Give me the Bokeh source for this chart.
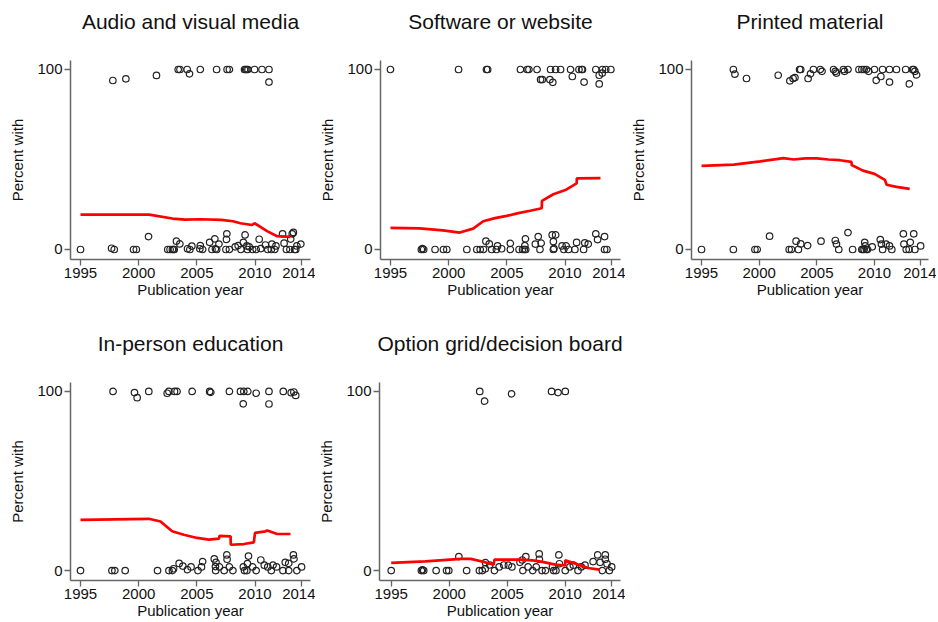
from bokeh.plotting import figure
from bokeh.layouts import column, row
from bokeh.models import Range1d, FixedTicker
from bokeh.embed import file_html
from bokeh.resources import INLINE

# ---------------- data ----------------
titles = ["Audio and visual media", "Software or website", "Printed material",
          "In-person education", "Option grid/decision board"]
x_ticks = [1995, 2000, 2005, 2010, 2014]
y_ticks = [0, 100]
x_label = "Publication year"
y_label = "Percent with"

av_year = [1997.78, 1998.9, 2001.53, 2003.4, 2003.55, 2004.17, 2004.37, 2005.3, 2006.7, 2007.6,
           2007.8, 2009.1, 2009.2, 2009.3, 2009.4, 2009.96, 2010.6, 2011.2, 2011.2,
           1995.0, 1997.67, 1997.9, 1999.56, 1999.8, 2000.85, 2002.5, 2002.7, 2002.9, 2003.05,
           2003.25, 2003.54, 2004.2, 2004.57, 2005.26, 2005.3, 2006.1, 2006.3, 2006.55, 2006.6,
           2006.7, 2006.9, 2007.5, 2007.55, 2007.58, 2007.8, 2008.55, 2008.8, 2009.0, 2009.15,
           2009.3, 2009.35, 2009.8, 2010.36, 2010.5, 2010.9, 2011.4, 2011.45, 2011.7, 2011.8,
           2012.37, 2012.7, 2013.0, 2013.07, 2013.2, 2013.4, 2013.94, 2003.0, 2004.4, 2005.5,
           2008.3, 2009.5, 2010.1, 2011.1, 2012.5, 2013.3, 2013.5, 2013.6]
av_pct = [93.9, 94.8, 96.7, 100, 100, 100, 97.6, 100, 100, 100,
          100, 100, 100, 100, 100, 100, 100, 100, 93.0,
          0, 0.7, 0, 0, 0, 7.2, 0, 0, 0, 0,
          4.6, 3.1, 0.4, 1.9, 0.4, 2.2, 4.0, 0, 5.9, 0.4,
          0, 3.0, 0, 5.6, 8.7, 0, 2.2, 0, 4.0, 8.1,
          2.0, 0, 0, 5.7, 0.5, 2.5, 0, 3.0, 0, 2.0,
          8.7, 0, 0, 5.8, 8.7, 0, 3.0, 0, 0, 0,
          1.5, 1.5, 0, 0, 3.5, 9.5, 0, 2.0]

sw_year = [1995.0, 2000.85, 2003.25, 2003.35, 2006.17, 2006.75, 2006.9, 2007.6, 2008.76, 2009.19,
           2009.62, 2010.48, 2011.2, 2011.43, 2011.5, 2012.65, 2013.22, 2013.5, 2013.94, 2007.9,
           2008.05, 2008.7, 2008.95, 2010.63, 2011.64, 2012.94, 2012.94, 2013.2,
           1997.65, 1997.75, 1997.85, 1998.83, 1999.55, 1999.84, 2001.56, 2002.42, 2002.71, 2003.0,
           2003.2, 2003.49, 2003.7, 2004.1, 2004.2, 2004.55, 2005.3, 2005.3, 2006.05, 2006.35,
           2006.5, 2006.55, 2006.6, 2006.62, 2007.45, 2007.7, 2007.85, 2007.95, 2008.9, 2009.0,
           2009.0, 2009.05, 2009.2, 2009.75, 2009.9, 2010.1, 2010.3, 2011.0, 2010.85, 2011.7,
           2011.6, 2012.0, 2012.65, 2012.8, 2013.4, 2013.4, 2013.6]
sw_pct = [100, 100, 100, 100, 100, 100, 100, 100, 100, 100,
          100, 100, 100, 100, 100, 100, 100, 100, 100, 94.4,
          94.4, 94.4, 92.9, 96.1, 93.0, 96.8, 92.0, 98.0,
          0, 0.5, 0, 0, 0, 0, 0, 0, 0, 0,
          4.6, 3.1, 0, 0, 2.0, 0.4, 0, 3.4, 0, 0,
          0, 2.2, 5.9, 0, 3.0, 7.2, 0, 3.5, 8.1, 4.4,
          0, 0.5, 8.1, 2.0, 0, 2.0, 0, 3.9, 0, 3.7,
          0, 3.0, 8.7, 5.5, 7.2, 0, 0]

pm_year = [1997.76, 1997.9, 1998.9, 2001.65, 2002.66, 2002.94, 2003.1, 2003.5, 2003.6, 2004.24,
           2004.45, 2004.7, 2005.3, 2005.45, 2006.45, 2006.6, 2006.7, 2007.3, 2007.4, 2007.7,
           2008.65, 2008.9, 2009.1, 2009.3, 2009.5, 2010.0, 2010.15, 2010.55, 2010.7, 2011.3,
           2011.3, 2011.9, 2012.7, 2013.02, 2013.3, 2013.4, 2013.5, 2013.65,
           1995.0, 1997.76, 1999.63, 1999.83, 2000.9, 2002.6, 2002.8, 2003.2, 2003.4, 2003.6,
           2004.2, 2005.36, 2006.6, 2006.7, 2006.9, 2007.7, 2008.1, 2008.9, 2009.0, 2009.1,
           2009.15, 2009.2, 2009.3, 2009.4, 2009.8, 2010.5, 2010.6, 2010.7, 2011.0, 2011.3,
           2011.5, 2012.5, 2012.55, 2012.75, 2013.1, 2013.0, 2013.4, 2013.5, 2014.0]
pm_pct = [100, 97.4, 95.0, 96.8, 93.7, 95.0, 95.5, 100, 100, 95.0,
          97.6, 100, 100, 99.0, 100, 99.0, 98.0, 100, 99.0, 100,
          100, 100, 100, 100, 99.0, 100, 94.0, 96.1, 100, 93.0,
          100, 100, 100, 92.0, 100, 100, 99.0, 97.0,
          0, 0, 0, 0, 7.4, 0, 0, 4.6, 0, 3.1,
          2.2, 4.6, 5.0, 3.0, 0, 9.4, 0, 0, 0, 0,
          4.0, 2.0, 0, 0, 1.5, 5.5, 3.0, 0, 3.0, 2.0,
          0, 8.7, 3.0, 0, 4.0, 0, 8.7, 0, 2.0]

ip_year = [1997.8, 1999.64, 1999.87, 2000.87, 2002.45, 2002.6, 2003.08, 2003.3, 2004.6, 2006.1,
           2006.2, 2007.8, 2008.75, 2009.04, 2009.38, 2008.99, 2010.1, 2011.2, 2011.2, 2012.43,
           2013.11, 2013.34, 2013.5,
           1995.0, 1997.7, 1997.95, 1998.84, 2001.62, 2002.6, 2002.9, 2003.0, 2003.48, 2003.8,
           2004.2, 2004.5, 2005.1, 2005.4, 2005.5, 2006.5, 2006.65, 2006.6, 2006.62, 2006.95,
           2007.35, 2007.58, 2007.6, 2007.8, 2008.1, 2009.0, 2009.1, 2009.3, 2009.44, 2009.35,
           2009.8, 2010.1, 2010.5, 2010.8, 2011.1, 2011.4, 2011.55, 2011.85, 2012.4, 2012.6,
           2012.9, 2013.3, 2013.35, 2012.9, 2013.6, 2014.0]
ip_pct = [100, 99.4, 96.5, 100, 99.0, 100, 100, 100, 100, 100,
          99.5, 100, 100, 100, 100, 93.1, 99.0, 100, 93.0, 100,
          99.3, 99.7, 97.8,
          0, 0, 0, 0, 0, 0, 0, 1.0, 4.0, 2.5,
          0.5, 2.0, 0, 2.0, 5.0, 6.5, 4.6, 2.2, 0, 2.0,
          0, 8.7, 6.3, 2.0, 0, 2.0, 0, 0, 8.1, 3.9,
          2.0, 0, 5.9, 3.0, 2.0, 0, 3.0, 2.0, 0, 4.6,
          4.0, 8.7, 6.5, 0, 0, 2.0]

og_year = [2002.63, 2003.05, 2005.37, 2008.82, 2009.38, 2010.0,
           1995.0, 1997.6, 1997.7, 1997.8, 1998.87, 1999.77, 1999.96, 2000.83, 2001.5, 2002.6,
           2002.85, 2003.1, 2003.13, 2003.5, 2003.9, 2004.3, 2004.7, 2005.1, 2005.4, 2006.1,
           2006.3, 2006.35, 2006.6, 2006.8, 2007.2, 2007.75, 2007.77, 2007.5, 2008.0, 2008.3,
           2008.9, 2009.0, 2009.2, 2009.45, 2009.5, 2010.0, 2010.4, 2010.7, 2011.1, 2011.4,
           2011.7, 2012.4, 2012.8, 2013.0, 2013.45, 2013.45, 2013.6, 2013.2, 2013.8, 2014.0]
og_pct = [100, 94.6, 98.7, 100, 99.4, 100,
          0, 0, 0.4, 0, 0, 0, 0, 7.8, 0, 0,
          0, 1.0, 4.4, 3.1, 0, 2.0, 3.1, 3.0, 2.0, 4.6,
          5.9, 0, 7.8, 2.0, 0, 9.3, 6.3, 2.0, 0, 0,
          2.0, 0, 0, 8.7, 3.8, 0, 2.0, 3.0, 0, 2.0,
          3.0, 5.0, 8.7, 4.6, 8.7, 6.3, 3.8, 0, 0, 2.0]

# lowess smooth lines
av_fit_year = [1995.0, 2000.9, 2002.9, 2004.0, 2005.3, 2007.1, 2008.1, 2008.75, 2009.75, 2009.96,
               2011.04, 2011.9, 2013.05]
av_fit = [19.4, 19.4, 17.2, 16.6, 16.8, 16.5, 15.7, 14.6, 13.6, 14.6, 10.2, 7.4, 7.0]
sw_fit_year = [1995.0, 1997.5, 1999.5, 2000.96, 2002.1, 2002.97, 2003.98, 2004.99, 2005.99, 2007.0,
               2008.0, 2008.02, 2009.0, 2010.03, 2011.0, 2011.02, 2013.05]
sw_fit = [12.0, 11.7, 10.6, 9.4, 11.6, 15.7, 17.4, 18.7, 20.2, 21.5, 22.9, 27.0, 30.7, 33.0, 36.7,
          39.5, 39.6]
pm_fit_year = [1995.0, 1997.8, 2000.1, 2002.1, 2003.0, 2004.0, 2005.0, 2006.0, 2007.0, 2008.0,
               2008.02, 2009.0, 2010.0, 2010.9, 2011.05, 2011.9, 2013.05]
pm_fit = [46.5, 47.2, 49.0, 50.8, 50.0, 50.6, 50.6, 50.0, 49.6, 48.7, 46.9, 43.8, 42.0, 38.7, 36.0,
          34.8, 33.7]
ip_fit_year = [1995.0, 2000.87, 2001.88, 2002.88, 2003.88, 2005.03, 2006.03, 2006.9, 2006.95,
               2007.9, 2007.92, 2009.04, 2009.9, 2010.0, 2010.9, 2011.05, 2011.9, 2013.05]
ip_fit = [28.3, 28.9, 27.4, 21.9, 20.0, 18.2, 17.3, 17.8, 19.4, 19.1, 14.4, 14.8, 15.7, 21.0, 21.9,
          22.4, 20.4, 20.4]
og_fit_year = [1995.0, 1997.94, 2001.0, 2001.87, 2002.99, 2003.83, 2003.9, 2004.95, 2006.07,
               2007.19, 2008.03, 2009.15, 2009.99, 2010.0, 2011.1, 2011.96, 2012.94]
og_fit = [4.3, 5.1, 6.5, 6.5, 4.8, 3.3, 6.1, 6.1, 6.1, 5.7, 4.8, 3.3, 2.8, 5.7, 3.3, 1.4, 0.5]

FONT = "Liberation Sans"
AXIS_COLOR = "#666666"
TEXT_COLOR = "#111111"


def panel(title, xs, ys, fx, fy, width, height, bl, br, bt, bb, xr):
    p = figure(width=width, height=height, output_backend="svg", toolbar_location=None,
               x_range=Range1d(*xr), y_range=Range1d(-5.56, 105),
               min_border_left=bl, min_border_right=br, min_border_top=bt, min_border_bottom=bb,
               title=title + "\n")
    p.title.text_font = FONT
    p.title.text_font_size = "21px"
    p.title.text_font_style = "normal"
    p.title.text_color = TEXT_COLOR
    p.title.align = "center"
    p.title.vertical_align = "top"
    p.title.standoff = 6
    p.outline_line_color = None
    p.xgrid.grid_line_color = None
    p.ygrid.grid_line_color = None
    p.background_fill_color = "white"
    p.border_fill_color = "white"

    p.scatter(xs, ys, marker="circle", size=6.5, fill_color=None, line_color="#222222",
              line_width=1.2)
    p.line(fx, fy, line_color="#ff0000", line_width=2.7)

    p.xaxis.ticker = FixedTicker(ticks=x_ticks)
    p.yaxis.ticker = FixedTicker(ticks=y_ticks)
    p.xaxis.axis_label = x_label
    p.yaxis.axis_label = y_label
    for ax in (p.xaxis[0], p.yaxis[0]):
        ax.axis_line_color = AXIS_COLOR
        ax.axis_line_width = 1.5
        ax.major_tick_line_color = AXIS_COLOR
        ax.major_tick_line_width = 1.3
        ax.major_tick_out = 6
        ax.major_tick_in = 0
        ax.minor_tick_line_color = None
        ax.major_label_text_font = FONT
        ax.major_label_text_font_size = "15px"
        ax.major_label_text_color = TEXT_COLOR
        ax.major_label_standoff = 2
        ax.axis_label_text_font = FONT
        ax.axis_label_text_font_size = "15px"
        ax.axis_label_text_font_style = "normal"
        ax.axis_label_text_color = TEXT_COLOR
    p.xaxis.axis_label_standoff = 0
    p.yaxis.axis_label_standoff = 8
    return p


XR = (1994.14, 2014.77)
XR3 = (1994.13, 2014.68)
XR5 = (1993.99, 2014.76)

p1 = panel(titles[0], av_year, av_pct, av_fit_year, av_fit, 315, 318, 70, 5, 60, 59, XR)
p2 = panel(titles[1], sw_year, sw_pct, sw_fit_year, sw_fit, 310, 318, 65, 5, 60, 59, XR)
p3 = panel(titles[2], pm_year, pm_pct, pm_fit_year, pm_fit, 311, 318, 66, 8, 60, 59, XR3)
p4 = panel(titles[3], ip_year, ip_pct, ip_fit_year, ip_fit, 315, 303, 70, 5, 64, 40, XR)
p5 = panel(titles[4], og_year, og_pct, og_fit_year, og_fit, 310, 303, 58, 5, 64, 40, XR5)

layout = column(row(p1, p2, p3), row(p4, p5))

open("out.html", "w").write(file_html(layout, INLINE))
